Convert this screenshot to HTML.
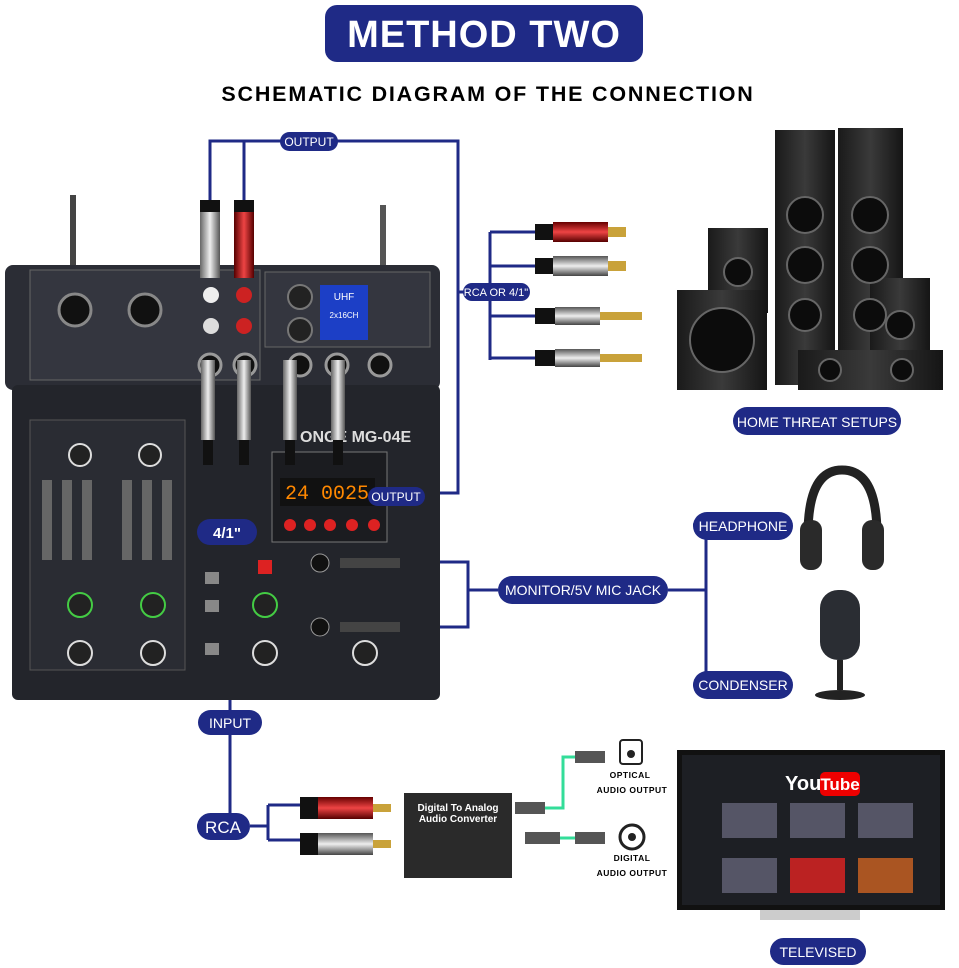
<!DOCTYPE html>
<html><head><meta charset="utf-8"><style>
body{margin:0;background:#fff;width:959px;height:968px;overflow:hidden}
svg{display:block;font-family:"Liberation Sans",sans-serif}
</style></head><body>
<svg width="959" height="968" viewBox="0 0 959 968">
<defs>
<linearGradient id="sp" x1="0" x2="1"><stop offset="0" stop-color="#1a1a1a"/><stop offset=".5" stop-color="#3a3a3a"/><stop offset="1" stop-color="#151515"/></linearGradient>
<linearGradient id="red" x1="0" y1="0" x2="0" y2="1"><stop offset="0" stop-color="#600"/><stop offset=".5" stop-color="#e44"/><stop offset="1" stop-color="#500"/></linearGradient>
<linearGradient id="sil" x1="0" y1="0" x2="0" y2="1"><stop offset="0" stop-color="#555"/><stop offset=".5" stop-color="#eee"/><stop offset="1" stop-color="#444"/></linearGradient>
<linearGradient id="silv" x1="0" x2="1"><stop offset="0" stop-color="#666"/><stop offset=".5" stop-color="#eee"/><stop offset="1" stop-color="#555"/></linearGradient>
<linearGradient id="redv" x1="0" x2="1"><stop offset="0" stop-color="#500"/><stop offset=".5" stop-color="#e44"/><stop offset="1" stop-color="#500"/></linearGradient>
</defs>
<!-- title -->
<rect x="325" y="5" width="318" height="57" rx="12" fill="#1f2a86"/>
<text x="484" y="47" font-size="38" font-weight="bold" fill="#fff" text-anchor="middle" letter-spacing="1">METHOD TWO</text>
<text x="488" y="101" font-size="21.5" font-weight="bold" fill="#000" text-anchor="middle" letter-spacing="1.8">SCHEMATIC DIAGRAM OF THE CONNECTION</text>

<!-- connector lines -->
<g stroke="#1f2a86" stroke-width="3" fill="none">
<path d="M210 200 V141 H458 V493 H425"/>
<path d="M244 200 V141"/>
<path d="M458 292 H490"/>
<path d="M490 232 V360 M490 232 H535 M490 266 H535 M490 316 H535 M490 358 H535"/>
<path d="M440 562 H468 V627 H440 M468 590 H498"/>
<path d="M668 590 H706 M706 525 V685 M706 525 H693 M706 685 H693"/>
<path d="M230 700 V826 H197"/>
<path d="M250 826 H268 M268 805 V840 M268 805 H300 M268 840 H300"/>
</g>

<!-- mixer -->
<rect x="5" y="265" width="435" height="125" rx="8" fill="#2b2d35"/>
<rect x="12" y="385" width="428" height="315" rx="6" fill="#23252b"/>
<rect x="30" y="270" width="230" height="110" fill="#34363f" stroke="#666"/>
<rect x="265" y="272" width="165" height="75" fill="#34363f" stroke="#666"/>
<rect x="320" y="285" width="48" height="55" fill="#1c3fc6"/>
<text x="344" y="300" font-size="10" fill="#fff" text-anchor="middle">UHF</text>
<text x="344" y="318" font-size="8" fill="#fff" text-anchor="middle">2x16CH</text>
<circle cx="75" cy="310" r="16" fill="#111" stroke="#888" stroke-width="3"/>
<circle cx="145" cy="310" r="16" fill="#111" stroke="#888" stroke-width="3"/>
<circle cx="211" cy="295" r="8" fill="#eee"/><circle cx="244" cy="295" r="8" fill="#c22"/>
<circle cx="211" cy="326" r="8" fill="#ddd"/><circle cx="244" cy="326" r="8" fill="#c22"/>
<circle cx="300" cy="297" r="12" fill="#222" stroke="#777" stroke-width="2"/>
<circle cx="300" cy="330" r="12" fill="#222" stroke="#777" stroke-width="2"/>
<g fill="#111" stroke="#999" stroke-width="3"><circle cx="210" cy="365" r="11"/><circle cx="245" cy="365" r="11"/><circle cx="300" cy="365" r="11"/><circle cx="337" cy="365" r="11"/><circle cx="380" cy="365" r="11"/></g>
<rect x="272" y="452" width="115" height="90" fill="#1b1c20" stroke="#777"/>
<rect x="280" y="478" width="95" height="28" fill="#111"/>
<text x="327" y="499" font-size="20" fill="#f80" text-anchor="middle" font-family="Liberation Mono">24 0025</text>
<g fill="#d22"><circle cx="290" cy="525" r="6"/><circle cx="310" cy="525" r="6"/><circle cx="330" cy="525" r="6"/><circle cx="352" cy="525" r="6"/><circle cx="374" cy="525" r="6"/></g>
<rect x="30" y="420" width="155" height="250" fill="#2a2c33" stroke="#555"/>
<g fill="#666"><rect x="42" y="480" width="10" height="80"/><rect x="62" y="480" width="10" height="80"/><rect x="82" y="480" width="10" height="80"/><rect x="122" y="480" width="10" height="80"/><rect x="142" y="480" width="10" height="80"/><rect x="162" y="480" width="10" height="80"/></g>
<g fill="#222" stroke="#ddd" stroke-width="2"><circle cx="80" cy="455" r="11"/><circle cx="150" cy="455" r="11"/><circle cx="80" cy="605" r="12" stroke="#4c4"/><circle cx="153" cy="605" r="12" stroke="#4c4"/><circle cx="265" cy="605" r="12" stroke="#4c4"/><circle cx="80" cy="653" r="12"/><circle cx="153" cy="653" r="12"/><circle cx="265" cy="653" r="12"/><circle cx="365" cy="653" r="12"/></g>
<text x="300" y="442" font-size="16" fill="#ddd" font-weight="bold">ONGE MG-04E</text>
<rect x="258" y="560" width="14" height="14" fill="#d22"/>
<rect x="205" y="572" width="14" height="12" fill="#888"/><rect x="205" y="600" width="14" height="12" fill="#888"/><rect x="205" y="643" width="14" height="12" fill="#888"/>
<g><rect x="201" y="360" width="14" height="80" fill="url(#silv)"/><rect x="237" y="360" width="14" height="80" fill="url(#silv)"/><rect x="283" y="360" width="14" height="80" fill="url(#silv)"/><rect x="331" y="360" width="14" height="80" fill="url(#silv)"/>
<rect x="203" y="440" width="10" height="25" fill="#111"/><rect x="239" y="440" width="10" height="25" fill="#111"/><rect x="285" y="440" width="10" height="25" fill="#111"/><rect x="333" y="440" width="10" height="25" fill="#111"/></g>
<rect x="200" y="203" width="20" height="75" fill="url(#silv)"/><rect x="200" y="200" width="20" height="12" fill="#111"/>
<rect x="234" y="203" width="20" height="75" fill="url(#redv)"/><rect x="234" y="200" width="20" height="12" fill="#111"/>
<rect x="70" y="195" width="6" height="70" fill="#444"/><rect x="380" y="205" width="6" height="60" fill="#555"/>
<rect x="340" y="558" width="60" height="10" fill="#444"/><rect x="340" y="622" width="60" height="10" fill="#444"/>
<circle cx="320" cy="563" r="9" fill="#111" stroke="#999"/><circle cx="320" cy="627" r="9" fill="#111" stroke="#999"/>

<!-- plugs right of RCA OR -->
<rect x="535" y="224" width="18" height="16" fill="#111"/><rect x="553" y="222" width="55" height="20" fill="url(#red)"/><rect x="608" y="227" width="18" height="10" fill="#c9a23a"/>
<rect x="535" y="258" width="18" height="16" fill="#111"/><rect x="553" y="256" width="55" height="20" fill="url(#sil)"/><rect x="608" y="261" width="18" height="10" fill="#c9a23a"/>
<rect x="535" y="308" width="20" height="16" fill="#111"/><rect x="555" y="307" width="45" height="18" fill="url(#sil)"/><rect x="600" y="312" width="42" height="8" fill="#c9a23a"/>
<rect x="535" y="350" width="20" height="16" fill="#111"/><rect x="555" y="349" width="45" height="18" fill="url(#sil)"/><rect x="600" y="354" width="42" height="8" fill="#c9a23a"/>

<!-- speakers -->
<rect x="775" y="130" width="60" height="255" fill="url(#sp)"/>
<rect x="838" y="128" width="65" height="257" fill="url(#sp)"/>
<rect x="708" y="228" width="60" height="85" fill="url(#sp)"/>
<rect x="677" y="290" width="90" height="100" fill="url(#sp)"/>
<rect x="870" y="278" width="60" height="110" fill="url(#sp)"/>
<rect x="798" y="350" width="145" height="40" fill="url(#sp)"/>
<g fill="#0c0c0c" stroke="#666" stroke-width="2">
<circle cx="805" cy="215" r="18"/><circle cx="805" cy="265" r="18"/><circle cx="805" cy="315" r="16"/><circle cx="870" cy="215" r="18"/><circle cx="870" cy="265" r="18"/><circle cx="870" cy="315" r="16"/>
<circle cx="738" cy="272" r="14"/><circle cx="722" cy="340" r="32"/><circle cx="900" cy="325" r="14"/><circle cx="830" cy="370" r="11"/><circle cx="902" cy="370" r="11"/></g>

<!-- headphone -->
<path d="M808 535 Q808 470 842 470 Q877 470 877 535" stroke="#222" stroke-width="9" fill="none"/>
<rect x="800" y="520" width="22" height="50" rx="10" fill="#2a2a2a"/><rect x="862" y="520" width="22" height="50" rx="10" fill="#2a2a2a"/>
<!-- condenser mic -->
<rect x="820" y="590" width="40" height="70" rx="18" fill="#2a2d33"/>
<rect x="837" y="660" width="6" height="30" fill="#222"/><ellipse cx="840" cy="695" rx="25" ry="5" fill="#222"/>

<!-- converter -->
<rect x="404" y="793" width="108" height="85" fill="#2a2a2a"/>
<text x="458" y="811" font-size="10" font-weight="bold" fill="#fff" text-anchor="middle">Digital To Analog</text>
<text x="458" y="822" font-size="10" font-weight="bold" fill="#fff" text-anchor="middle">Audio Converter</text>
<rect x="300" y="797" width="18" height="22" fill="#111"/><rect x="318" y="797" width="55" height="22" fill="url(#red)"/><rect x="373" y="804" width="18" height="8" fill="#c9a23a"/>
<rect x="300" y="833" width="18" height="22" fill="#111"/><rect x="318" y="833" width="55" height="22" fill="url(#sil)"/><rect x="373" y="840" width="18" height="8" fill="#c9a23a"/>
<path d="M545 808 H563 V757 H575 M560 838 H575" stroke="#3d9" stroke-width="3" fill="none"/>
<rect x="515" y="802" width="30" height="12" fill="#555"/><rect x="525" y="832" width="35" height="12" fill="#555"/>
<rect x="575" y="751" width="30" height="12" fill="#555"/><rect x="575" y="832" width="30" height="12" fill="#555"/>
<rect x="620" y="740" width="22" height="24" rx="3" fill="#fff" stroke="#222" stroke-width="2"/><circle cx="631" cy="754" r="4" fill="#222"/>
<circle cx="632" cy="837" r="12" fill="#fff" stroke="#222" stroke-width="3"/><circle cx="632" cy="837" r="4" fill="#222"/>
<g font-size="8.5" font-weight="bold" fill="#000" text-anchor="middle" letter-spacing="0.5">
<text x="630" y="778">OPTICAL</text><text x="632" y="793">AUDIO OUTPUT</text>
<text x="632" y="861">DIGITAL</text><text x="632" y="876">AUDIO OUTPUT</text></g>

<!-- TV -->
<rect x="677" y="750" width="268" height="160" fill="#111"/>
<rect x="682" y="755" width="258" height="150" fill="#1d1f24"/>
<rect x="760" y="910" width="100" height="10" fill="#ccc"/>
<text x="785" y="790" font-size="20" font-weight="bold" fill="#fff">You</text>
<rect x="820" y="772" width="40" height="24" rx="5" fill="#e00"/>
<text x="840" y="790" font-size="17" font-weight="bold" fill="#fff" text-anchor="middle">Tube</text>
<g fill="#556"><rect x="722" y="803" width="55" height="35"/><rect x="790" y="803" width="55" height="35"/><rect x="858" y="803" width="55" height="35"/>
<rect x="722" y="858" width="55" height="35"/><rect x="790" y="858" width="55" height="35" fill="#b22"/><rect x="858" y="858" width="55" height="35" fill="#a52"/></g>

<!-- pills -->
<g fill="#1f2a86">
<rect x="280" y="132" width="58" height="19" rx="9.5"/>
<rect x="463" y="283" width="67" height="18" rx="9"/>
<rect x="733" y="407" width="168" height="28" rx="14"/>
<rect x="368" y="487" width="57" height="19" rx="9.5"/>
<rect x="197" y="519" width="60" height="26" rx="13"/>
<rect x="693" y="512" width="100" height="28" rx="14"/>
<rect x="498" y="576" width="170" height="28" rx="14"/>
<rect x="693" y="671" width="100" height="28" rx="14"/>
<rect x="198" y="710" width="64" height="25" rx="12.5"/>
<rect x="197" y="813" width="53" height="27" rx="13.5"/>
<rect x="770" y="938" width="96" height="27" rx="13.5"/>
</g>
<g fill="#fff" text-anchor="middle">
<text x="309" y="146" font-size="12">OUTPUT</text>
<text x="496" y="296" font-size="11">RCA OR 4/1"</text>
<text x="817" y="427" font-size="14">HOME THREAT SETUPS</text>
<text x="396" y="501" font-size="12">OUTPUT</text>
<text x="227" y="538" font-size="15" font-weight="bold">4/1"</text>
<text x="743" y="531" font-size="14">HEADPHONE</text>
<text x="583" y="595" font-size="14">MONITOR/5V MIC JACK</text>
<text x="743" y="690" font-size="14">CONDENSER</text>
<text x="230" y="728" font-size="14">INPUT</text>
<text x="223" y="833" font-size="17">RCA</text>
<text x="818" y="957" font-size="14">TELEVISED</text>
</g>
</svg>
</body></html>
